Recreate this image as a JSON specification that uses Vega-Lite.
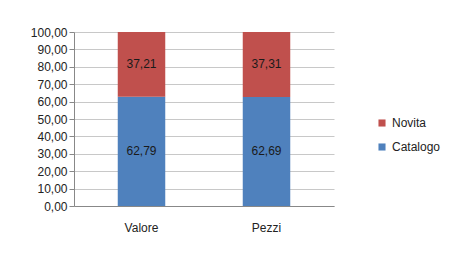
{
  "$schema": "https://vega.github.io/schema/vega-lite/v6.json",
  "autosize": {"type": "none"},
  "padding": {"left": 74, "top": 32, "right": 116, "bottom": 64},
  "width": 260,
  "height": 174,
  "background": "white",
  "config": {
    "font": "Liberation Sans",
    "view": {"stroke": null},
    "locale": {"number": {"decimal": ",", "thousands": ".", "grouping": [3], "currency": ["", " €"]}}
  },
  "data": {
    "values": [
      {"cat": "Valore", "serie": "Catalogo", "ord": 1, "val": 62.79},
      {"cat": "Valore", "serie": "Novita", "ord": 2, "val": 37.21},
      {"cat": "Pezzi", "serie": "Catalogo", "ord": 1, "val": 62.69},
      {"cat": "Pezzi", "serie": "Novita", "ord": 2, "val": 37.31}
    ]
  },
  "transform": [
    {"stack": "val", "groupby": ["cat"], "sort": [{"field": "ord"}], "as": ["v0", "v1"]},
    {"calculate": "(datum.v0 + datum.v1) / 2", "as": "mid"}
  ],
  "encoding": {
    "x": {
      "field": "cat", "type": "nominal", "sort": ["Valore", "Pezzi"],
      "scale": {"paddingInner": 0.62, "paddingOuter": 0.35},
      "axis": {"title": null, "labelAngle": 0, "labelFontSize": 12, "labelColor": "#222", "labelPadding": 16,
               "domainColor": "#888", "ticks": false}
    }
  },
  "layer": [
    {
      "mark": {"type": "bar"},
      "encoding": {
        "y": {
          "field": "v1", "type": "quantitative",
          "scale": {"domain": [0, 100]},
          "axis": {"values": [0,10,20,30,40,50,60,70,80,90,100], "format": ".2f", "labelOverlap": false,
                   "labelFontSize": 12, "labelColor": "#222", "gridColor": "#c8c8c8",
                   "domainColor": "#888", "tickColor": "#888", "tickSize": 5, "title": null}
        },
        "y2": {"field": "v0"},
        "color": {
          "field": "serie", "type": "nominal",
          "scale": {"domain": ["Novita", "Catalogo"], "range": ["#C0504D", "#4F81BD"]},
          "legend": {"title": null, "orient": "none", "legendX": 302, "legendY": 85,
                     "symbolType": "square", "symbolSize": 50, "symbolStrokeWidth": 0,
                     "labelFontSize": 12, "labelColor": "#222", "rowPadding": 12}
        }
      }
    },
    {
      "mark": {"type": "text", "fontSize": 12, "color": "#1a1a1a"},
      "encoding": {
        "y": {"field": "mid", "type": "quantitative",
              "axis": {"values": [0,10,20,30,40,50,60,70,80,90,100], "format": ".2f", "labelOverlap": false,
                   "labelFontSize": 12, "labelColor": "#222", "gridColor": "#c8c8c8",
                   "domainColor": "#888", "tickColor": "#888", "tickSize": 5, "title": null}},
        "text": {"field": "val", "type": "quantitative", "format": ".2f"}
      }
    }
  ]
}
